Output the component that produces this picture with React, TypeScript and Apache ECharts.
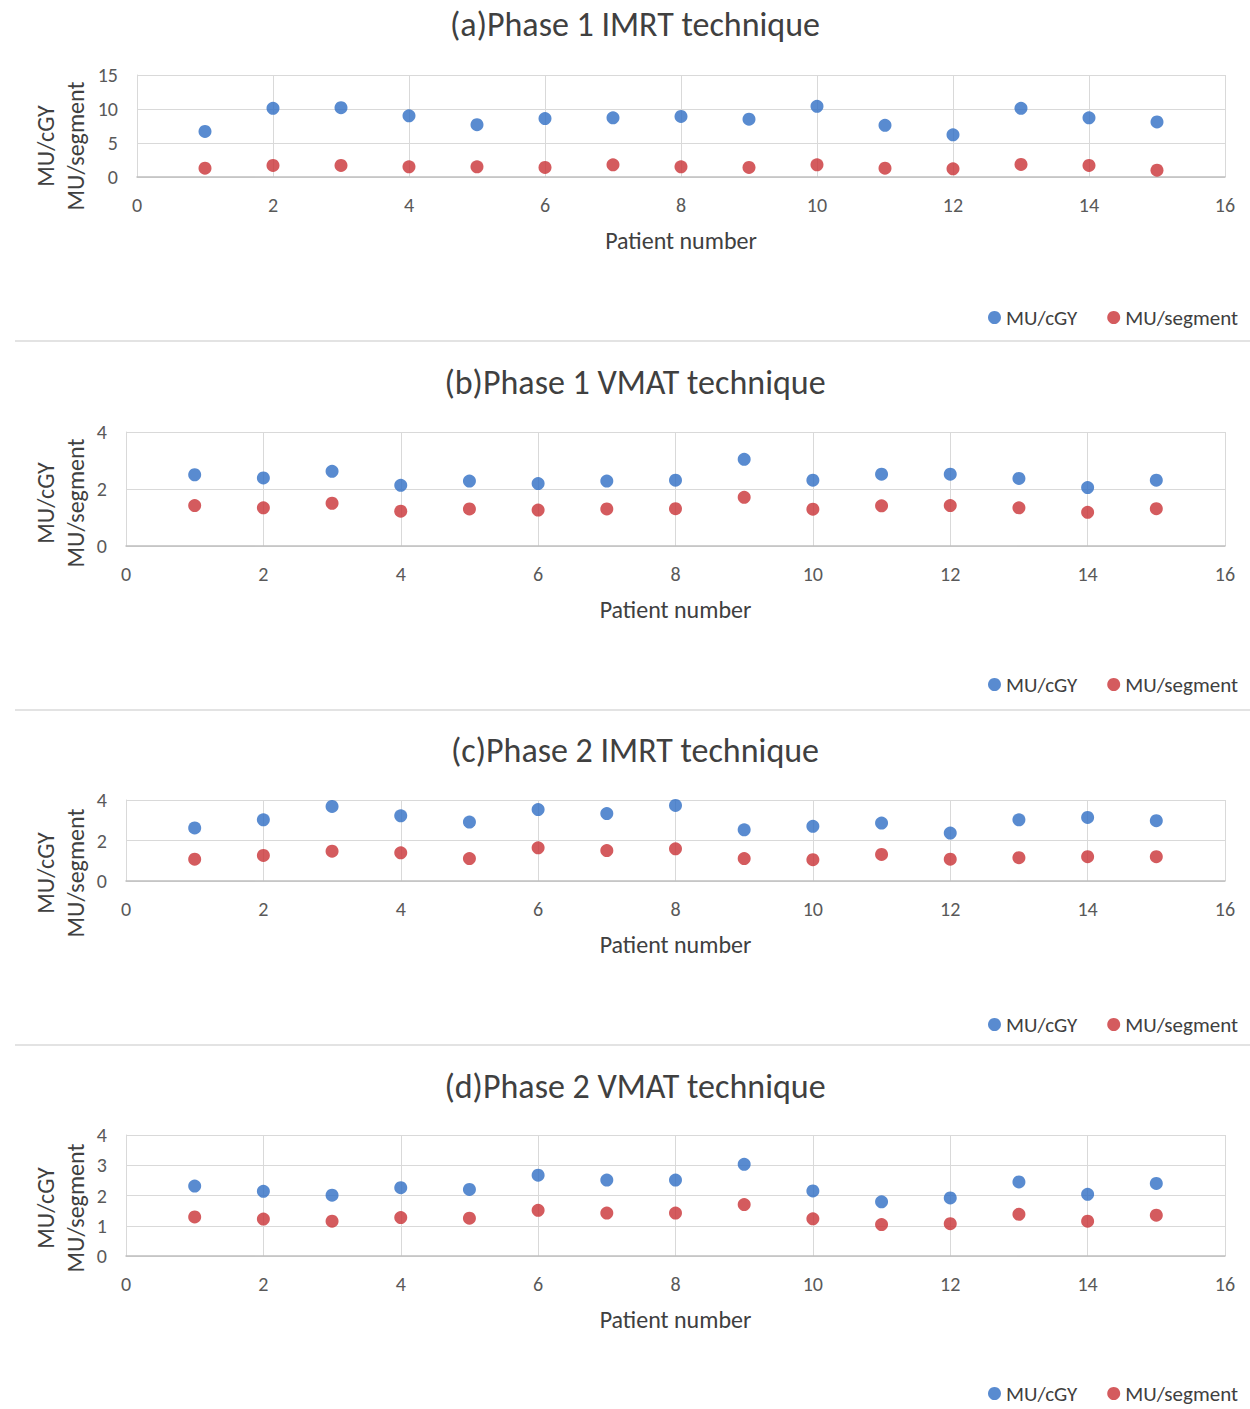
import React, { useEffect, useRef } from "react";
import * as echarts from "echarts";

const patients = [1, 2, 3, 4, 5, 6, 7, 8, 9, 10, 11, 12, 13, 14, 15];
const seriesNames = ["MU/cGY", "MU/segment"];
const panelTitles = [
  "(a)Phase 1 IMRT technique",
  "(b)Phase 1 VMAT technique",
  "(c)Phase 2 IMRT technique",
  "(d)Phase 2 VMAT technique",
];
const aMUcGY = [6.7, 10.1, 10.2, 9.0, 7.7, 8.6, 8.7, 8.9, 8.5, 10.4, 7.6, 6.2, 10.1, 8.7, 8.1];
const aMUseg = [1.3, 1.7, 1.7, 1.5, 1.5, 1.4, 1.8, 1.5, 1.4, 1.8, 1.3, 1.2, 1.85, 1.7, 1.0];
const bMUcGY = [2.5, 2.39, 2.62, 2.13, 2.28, 2.19, 2.28, 2.31, 3.04, 2.31, 2.52, 2.52, 2.37, 2.05, 2.31];
const bMUseg = [1.42, 1.34, 1.5, 1.22, 1.3, 1.26, 1.3, 1.31, 1.71, 1.29, 1.41, 1.42, 1.34, 1.18, 1.31];
const cMUcGY = [2.62, 3.02, 3.68, 3.22, 2.91, 3.53, 3.33, 3.73, 2.53, 2.7, 2.86, 2.37, 3.02, 3.14, 2.98];
const cMUseg = [1.08, 1.26, 1.47, 1.39, 1.11, 1.64, 1.5, 1.59, 1.11, 1.05, 1.31, 1.08, 1.15, 1.2, 1.2];
const dMUcGY = [2.31, 2.14, 2.01, 2.26, 2.2, 2.67, 2.51, 2.51, 3.03, 2.15, 1.79, 1.92, 2.45, 2.04, 2.4];
const dMUseg = [1.29, 1.22, 1.15, 1.27, 1.25, 1.51, 1.42, 1.42, 1.7, 1.23, 1.04, 1.07, 1.38, 1.15, 1.35];
const yMax = [15, 4, 4, 4];
const yInterval = [5, 2, 2, 1];
const xMin = 0;
const xMax = 16;
const xInterval = 2;

const FONT = "Carlito, Lato, 'Liberation Sans', sans-serif";
const BLUE = "#2F6EC4";
const RED = "#C93236";
const GRID_COLOR = "#D9D9D9";
const LABEL_COLOR = "#595959";

const layout = [
  { left: 137, top: 75, height: 102, titleY: 24, legendY: 318, sepY: 341, yNameY: 146 },
  { left: 126, top: 432, height: 114, titleY: 382, legendY: 685, sepY: 710, yNameY: 503 },
  { left: 126, top: 800, height: 81, titleY: 750, legendY: 1025, sepY: 1045, yNameY: 873 },
  { left: 126, top: 1135, height: 121, titleY: 1086, legendY: 1394, sepY: -1, yNameY: 1208 },
];

export default function App() {
  const ref = useRef<HTMLDivElement>(null);
  useEffect(() => {
    document.body.style.margin = "0";
    const chart = echarts.init(ref.current!, null, { renderer: "svg" });
    const panelData = [
      [aMUcGY, aMUseg],
      [bMUcGY, bMUseg],
      [cMUcGY, cMUseg],
      [dMUcGY, dMUseg],
    ];
    const grids: any[] = [];
    const xAxes: any[] = [];
    const yAxes: any[] = [];
    const series: any[] = [];
    const titles: any[] = [];
    const legends: any[] = [];
    const graphics: any[] = [];
    layout.forEach((L, i) => {
      grids.push({ left: L.left, right: 25, top: L.top, height: L.height });
      xAxes.push({
        type: "value",
        gridIndex: i,
        min: xMin,
        max: xMax,
        interval: xInterval,
        name: "Patient number",
        nameLocation: "middle",
        nameGap: 51,
        nameTextStyle: { fontFamily: FONT, fontSize: 24, color: "#404040" },
        axisLine: { show: true, lineStyle: { color: "#BFBFBF", width: 1.5 } },
        axisTick: { show: false },
        axisLabel: { fontFamily: FONT, fontSize: 20, color: LABEL_COLOR, margin: 18 },
        splitLine: { show: true, lineStyle: { color: GRID_COLOR, width: 1 } },
      });
      yAxes.push({
        type: "value",
        gridIndex: i,
        min: 0,
        max: yMax[i],
        interval: yInterval[i],
        axisLine: { show: true, lineStyle: { color: GRID_COLOR, width: 1 } },
        axisTick: { show: false },
        axisLabel: { fontFamily: FONT, fontSize: 20, color: LABEL_COLOR, margin: 19 },
        splitLine: { show: true, lineStyle: { color: GRID_COLOR, width: 1 } },
      });
      seriesNames.forEach((n, k) => {
        series.push({
          type: "scatter",
          name: n,
          xAxisIndex: i,
          yAxisIndex: i,
          symbol: "circle",
          symbolSize: 13,
          itemStyle: { color: k === 0 ? BLUE : RED },
          data: patients.map((p, j) => [p, panelData[i][k][j]]),
        });
      });
      titles.push({
        text: panelTitles[i],
        left: 630,
        textAlign: "center",
        top: L.titleY - 22,
        textStyle: { fontFamily: FONT, fontSize: 34, fontWeight: "normal", color: "#404040" },
      });
      legends.push({
        data: seriesNames,
        right: 12,
        top: L.legendY - 11,
        padding: 0,
        icon: "circle",
        itemWidth: 13,
        itemHeight: 13,
        itemGap: 30,
        textStyle: { fontFamily: FONT, fontSize: 21, color: "#404040" },
      });
      graphics.push({
        type: "text",
        x: 45,
        y: L.yNameY,
        rotation: Math.PI / 2,
        style: { text: "MU/cGY", font: `24px ${FONT}`, fill: "#404040", align: "center", verticalAlign: "middle" },
      });
      graphics.push({
        type: "text",
        x: 75,
        y: L.yNameY,
        rotation: Math.PI / 2,
        style: { text: "MU/segment", font: `24px ${FONT}`, fill: "#404040", align: "center", verticalAlign: "middle" },
      });
      if (L.sepY > 0) {
        graphics.push({
          type: "line",
          shape: { x1: 15, y1: L.sepY, x2: 1250, y2: L.sepY },
          style: { stroke: "#E3E3E3", lineWidth: 2 },
        });
      }
    });
    chart.setOption({
      animation: false,
      backgroundColor: "#FFFFFF",
      title: titles,
      legend: legends,
      grid: grids,
      xAxis: xAxes,
      yAxis: yAxes,
      series,
      graphic: graphics,
    });
    return () => chart.dispose();
  }, []);
  return <div ref={ref} style={{ width: 1250, height: 1409 }} />;
}
